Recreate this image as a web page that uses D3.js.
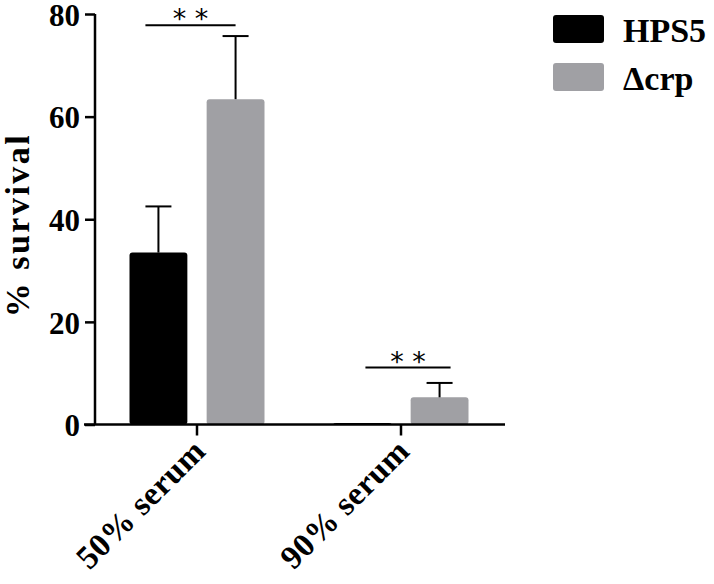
<!DOCTYPE html>
<html>
<head>
<meta charset="utf-8">
<script src="https://cdn.jsdelivr.net/npm/d3@7"></script>
<style>
  body { margin: 0; background: #fff; }
  text { font-family: "Liberation Serif", "Times New Roman", serif; font-weight: bold; }
</style>
</head>
<body>
<div id="chart"></div>
<script>
let w = 714;
let h = 584;

// data
const groups = ["50% serum", "90% serum"];
const series = ["HPS5", "\u0394crp"];
const colors = ["#000000", "#a0a0a4"];
const means = [[33.5, 63.4], [0.3, 5.3]];   // [group][series]
const errs = [[9.0, 12.3], [0, 2.8]];
const yTicks = [0, 20, 40, 60, 80];
const sigLevels = [77.8, 11.1];   // height of significance line per group
const sigLabels = ["* *", "* *"];

let svg = d3.select("#chart")
    .append("svg")
    .attr("width", w)
    .attr("height", h);

// scales
let x0 = d3.scaleBand().domain(groups).range([95, 503]).padding(0);
let x1 = d3.scaleBand().domain(series).range([-67.5, 67.5]).paddingInner(0.25).paddingOuter(0);
let y = d3.scaleLinear().domain([0, 80]).range([424.5, 14]);

let cx = (g, s) => x0(g) + x0.bandwidth() / 2 + x1(s) + x1.bandwidth() / 2;

// bars
groups.forEach((g, gi) => {
    series.forEach((s, si) => {
        let v = means[gi][si];
        svg.append("rect")
            .attr("x", x0(g) + x0.bandwidth() / 2 + x1(s))
            .attr("y", y(v))
            .attr("width", x1.bandwidth())
            .attr("height", y(0) - y(v))
            .attr("rx", 3)
            .attr("fill", colors[si]);
        // error bars (upper only)
        if (errs[gi][si] > 0) {
            let c = cx(g, s);
            svg.append("line")
                .attr("x1", c).attr("x2", c)
                .attr("y1", y(v)).attr("y2", y(v + errs[gi][si]))
                .attr("stroke", "#000").attr("stroke-width", 2);
            svg.append("line")
                .attr("x1", c - 13).attr("x2", c + 13)
                .attr("y1", y(v + errs[gi][si])).attr("y2", y(v + errs[gi][si]))
                .attr("stroke", "#000").attr("stroke-width", 2);
        }
    });
});

// significance lines
groups.forEach((g, gi) => {
    let xa = cx(g, series[0]) - (gi == 0 ? 13 : -3);
    let xb = cx(g, series[1]) + (gi == 0 ? 0 : 11);
    svg.append("line")
        .attr("x1", xa).attr("x2", xb)
        .attr("y1", y(sigLevels[gi])).attr("y2", y(sigLevels[gi]))
        .attr("stroke", "#000").attr("stroke-width", 2);
    svg.append("text")
        .attr("x", (xa + xb) / 2)
        .attr("y", y(sigLevels[gi]) + 3)
        .attr("text-anchor", "middle")
        .style("font-family", "'DejaVu Sans', sans-serif")
        .style("font-weight", "normal")
        .style("font-size", "27px")
        .text(sigLabels[gi]);
});

// y axis
let yAxis = d3.axisLeft(y).tickValues(yTicks).tickSize(10).tickPadding(5);
let gy = svg.append("g")
    .attr("transform", "translate(95,0)")
    .call(yAxis);
gy.select(".domain").attr("stroke-width", 2.5).attr("d", "M0," + y(80) + "V" + y(0));
gy.selectAll(".tick line").attr("stroke-width", 2.5);
gy.selectAll(".tick text")
    .style("font-size", "31px")
    .style("font-family", "'Liberation Serif', serif")
    .attr("dy", "0.36em");

// x axis
let xAxis = d3.axisBottom(x0).tickSize(11).tickFormat("");
let gx = svg.append("g")
    .attr("transform", "translate(0," + y(0) + ")")
    .call(xAxis);
gx.select(".domain").attr("stroke-width", 2.5).attr("d", "M84,0H505");
gx.selectAll(".tick line").attr("stroke-width", 2.5);

// rotated category labels
groups.forEach(g => {
    let tx = x0(g) + x0.bandwidth() / 2 - 6;
    let ty = y(0) + 12;
    svg.append("text")
        .attr("transform", "translate(" + tx + "," + ty + ") rotate(-45)")
        .attr("text-anchor", "end")
        .attr("dy", "0.7em")
        .style("font-size", "33px")
        .style("letter-spacing", "0.5px")
        .text(g);
});

// y title
svg.append("text")
    .attr("transform", "translate(29,225) rotate(-90)")
    .attr("text-anchor", "middle")
    .style("font-size", "34px")
    .style("letter-spacing", "2.5px")
    .text("% survival");

// legend
series.forEach((s, i) => {
    svg.append("rect")
        .attr("x", 553)
        .attr("y", 15 + i * 48)
        .attr("width", 51)
        .attr("height", 28)
        .attr("rx", 3)
        .attr("fill", colors[i]);
    svg.append("text")
        .attr("x", 623)
        .attr("y", 42 + i * 48)
        .style("font-size", "34px")
        .text(s);
});
</script>
</body>
</html>
